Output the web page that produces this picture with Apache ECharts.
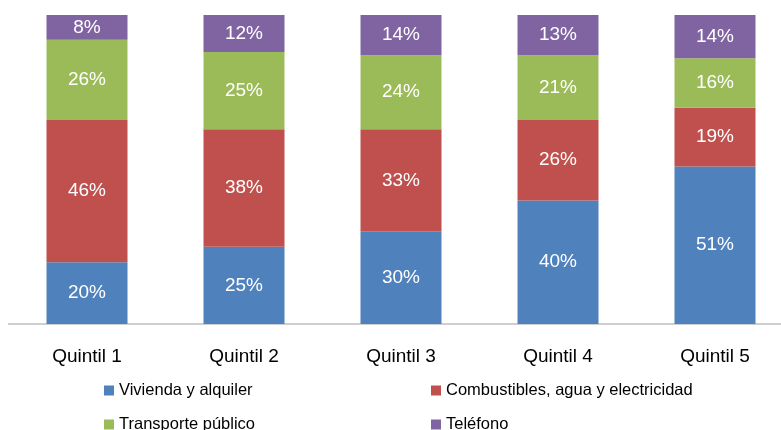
<!DOCTYPE html>
<html>
<head>
<meta charset="utf-8">
<script src="https://cdn.jsdelivr.net/npm/echarts@6/dist/echarts.min.js"></script>
<style>
  html, body { margin: 0; padding: 0; background: #fff; }
  #chart { width: 781px; height: 430px; }
</style>
</head>
<body>
<div id="chart"></div>
<script>
const categories = ["Quintil 1", "Quintil 2", "Quintil 3", "Quintil 4", "Quintil 5"];
const vivienda = [20, 25, 30, 40, 51];
const combustibles = [46, 38, 33, 26, 19];
const transporte = [26, 25, 24, 21, 16];
const telefono = [8, 12, 14, 13, 14];

const font = "'Liberation Sans', Arial, sans-serif";

function barSeries(name, data, color) {
  return {
    name: name,
    type: "bar",
    stack: "total",
    barWidth: 81,
    data: data,
    itemStyle: { color: color },
    label: {
      show: true,
      position: "inside",
      formatter: "{c}%",
      color: "#fff",
      fontSize: 19,
      fontFamily: font,
    },
  };
}

// one legend per item so each sits where it does in the picture
function legendAt(name, left, top) {
  return {
    data: [name],
    left: left,
    top: top,
    padding: 0,
    itemWidth: 10,
    itemHeight: 10,
    itemGap: 0,
    icon: "rect",
    textStyle: { fontSize: 16.5, fontFamily: font, color: "#000", padding: [0, 0, 0, 0] },
  };
}

const chart = echarts.init(document.getElementById("chart"));
chart.setOption({
  animation: false,
  grid: { left: 8.5, width: 785, top: 15, bottom: 106, outerBoundsMode: "none", containLabel: false },
  legend: [
    legendAt("Vivienda y alquiler", 104, 382),
    legendAt("Transporte público", 104, 416),
    legendAt("Combustibles, agua y electricidad", 431, 382),
    legendAt("Teléfono", 431, 416),
  ],
  xAxis: {
    type: "category",
    data: categories,
    axisLine: { lineStyle: { color: "#bfbfbf", width: 1.5 } },
    axisTick: { show: false },
    axisLabel: { fontSize: 19, fontFamily: font, color: "#000", margin: 23 },
  },
  yAxis: {
    type: "value",
    min: 0,
    max: 100,
    show: false,
  },
  series: [
    barSeries("Vivienda y alquiler", vivienda, "#4F81BD"),
    barSeries("Combustibles, agua y electricidad", combustibles, "#C0504D"),
    barSeries("Transporte público", transporte, "#9BBB59"),
    barSeries("Teléfono", telefono, "#8064A2"),
  ],
});
</script>
</body>
</html>
